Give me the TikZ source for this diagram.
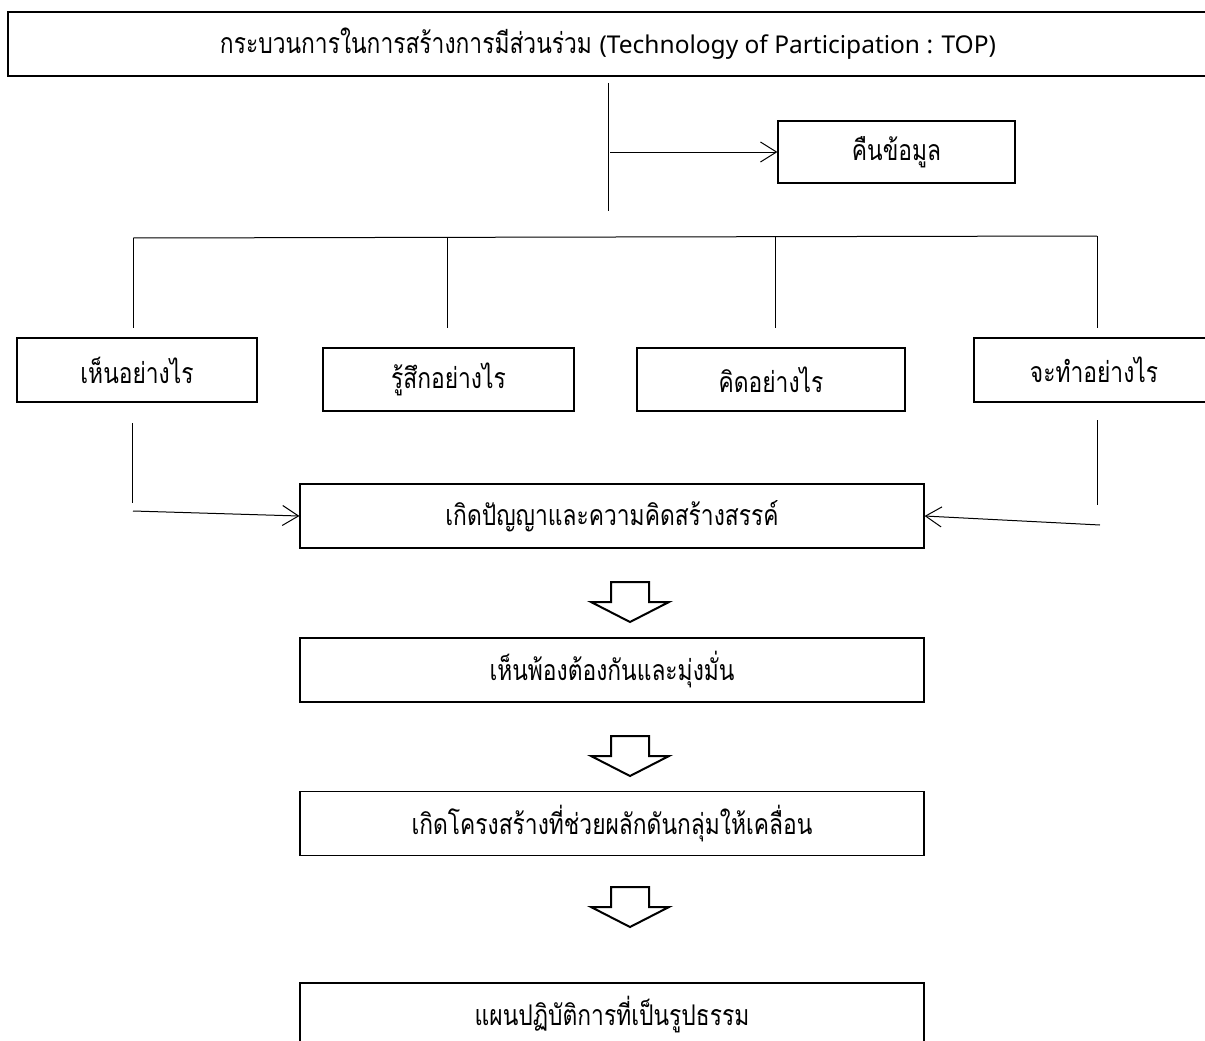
\documentclass[tikz,border=0pt]{standalone}
\usepackage{fontspec}
\setmainfont[Script=Thai, FakeStretch=0.8]{Loma}
\newfontfamily\latinfont{Noto Sans}
\usetikzlibrary{arrows.meta,positioning}

\tikzset{
  box/.style={draw, line width=1.2pt, minimum height=64pt, inner sep=0pt,
    font=\fontsize{28.5}{32}\selectfont},
  link/.style={line width=1pt},
  linkarrow/.style={line width=1pt, -{Straight Barb[length=16pt,width=20pt]}},
  hollow/.style={draw, line width=2pt, fill=white, line join=miter},
}

\begin{document}
\begin{tikzpicture}[x=1pt,y=-1pt]
  \clip (0,0) rectangle (1205,1041);
  \fill[white] (0,0) rectangle (1205,1041);

  % boxes
  \node[box, minimum width=1200pt] (top) at (608,44)
    {กระบวนการในการสร้างการมีส่วนร่วม {\latinfont\fontsize{24.5}{28}\selectfont(Technology of Participation : TOP)}};
  \node[box, minimum width=237pt, minimum height=62pt] (feedback) at (896.5,152) {คืนข้อมูล};
  \node[box, minimum width=240pt] (see)   at (137,370)     {เห็นอย่างไร};
  \node[box, minimum width=251pt, minimum height=63pt] (feel)  at (448.5,379.5) {รู้สึกอย่างไร};
  \node[box, minimum width=268pt, minimum height=63pt] (think) at (771,379.5)   {คิดอย่างไร};
  \node[box, minimum width=240pt] (act)   at (1094,370)    {จะทำอย่างไร};
  \node[box, minimum width=624pt] (wisdom)    at (612,516)    {เกิดปัญญาและความคิดสร้างสรรค์};
  \node[box, minimum width=624pt] (agree)     at (612,670)    {เห็นพ้องต้องกันและมุ่งมั่น};
  \node[box, minimum width=624pt] (structure) at (612,823.5)  {เกิดโครงสร้างที่ช่วยผลักดันกลุ่มให้เคลื่อน};
  \node[box, minimum width=624pt] (plan)      at (612,1015)   {แผนปฏิบัติการที่เป็นรูปธรรม};

  % trunk and feedback
  \coordinate (trunktop) at (608,83);
  \coordinate (trunkbot) at (608,211);
  \coordinate (tap) at (610,152);
  \draw[link] (trunktop) -- (trunkbot);
  \draw[linkarrow] (tap) -- (feedback);

  % branch bar
  \coordinate (barL) at (133,238);
  \coordinate (barR) at (1097,236);
  \coordinate (bar2) at (447,237.5);
  \coordinate (bar3) at (775,236.5);
  \coordinate (seeUp) at (133,328);
  \coordinate (feelUp) at (447,328);
  \coordinate (thinkUp) at (775,328);
  \coordinate (actUp) at (1097,328);
  \draw[link] (barL) -- (barR);
  \draw[link] (barL) -- (seeUp);
  \draw[link] (bar2) -- (feelUp);
  \draw[link] (bar3) -- (thinkUp);
  \draw[link] (barR) -- (actUp);

  % into wisdom
  \coordinate (seeDown) at (132,423);
  \coordinate (seeCorner) at (132,503);
  \coordinate (seeTail) at (133,511);
  \draw[link] (seeDown) -- (seeCorner);
  \draw[linkarrow] (seeTail) -- (wisdom.west);
  \coordinate (actDown) at (1097,420);
  \coordinate (actCorner) at (1097,505);
  \coordinate (actTail) at (1100,525);
  \draw[link] (actDown) -- (actCorner);
  \draw[linkarrow] (actTail) -- (wisdom.east);

  % hollow arrows
  \coordinate (dn1) at (630,582);
  \coordinate (dn2) at (630,736);
  \coordinate (dn3) at (630,887);
  \draw[hollow] (dn1) ++(-19,0) -- ++(38,0) -- ++(0,20) -- ++(20,0) -- ++(-39,20) -- ++(-39,-20) -- ++(20,0) -- cycle;
  \draw[hollow] (dn2) ++(-19,0) -- ++(38,0) -- ++(0,20) -- ++(20,0) -- ++(-39,20) -- ++(-39,-20) -- ++(20,0) -- cycle;
  \draw[hollow] (dn3) ++(-19,0) -- ++(38,0) -- ++(0,20) -- ++(20,0) -- ++(-39,20) -- ++(-39,-20) -- ++(20,0) -- cycle;
\end{tikzpicture}
\end{document}
